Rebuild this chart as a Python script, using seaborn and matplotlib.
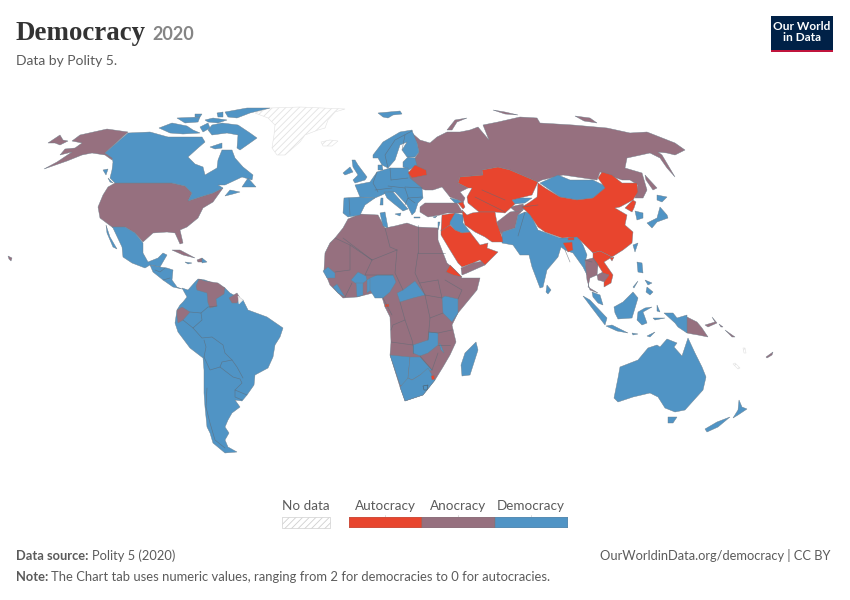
import matplotlib
matplotlib.use("Agg")
import matplotlib.pyplot as plt
from matplotlib.patches import Rectangle
import seaborn as sns

# ---- legend / text values ----
regimes = ["Autocracy", "Anocracy", "Democracy"]
legend_values = [1, 1, 1]
palette = ["#E8452E", "#96707F", "#5094C5"]
AUT, ANO, DEM = palette
NODATA_LABEL = "No data"
TITLE = "Democracy"
YEAR = "2020"
SUBTITLE = "Data by Polity 5."

# ---- outlines of the countries (map pixels) ----
greenland = [(255,113),(270,108),(300,107),(345,109),(335,112),(328,120),(325,128),(318,130),(305,135),(300,142),(285,155),(277,155),(272,148),(274,135),(275,125),(268,118)]
iceland = [(321,142),(330,140),(338,141),(332,146),(323,146)]
w_sahara = [(325,253),(330,243),(335,238),(343,238),(338,242),(335,248),(333,253)]
fr_guiana = [(238,296),(243,300),(239,304)]
new_caled = [(735,363),(740,368),(738,369),(733,364)]
vanuatu = [(743,348),(745,348),(746,353),(744,353)]

alaska = [(107,129),(80,135),(72,141),(82,143),(75,148),(65,149),(60,155),(72,152),(57,162),(44,169),(67,161),(82,155),(92,153),(105,155),(112,160),(113,158),(105,153),(128,132)]
seward = [(48,143),(60,135),(63,140),(68,141),(60,145),(55,143)]
usa = [(115,183),(172,183),(185,186),(192,193),(188,201),(200,197),(213,193),(223,188),(218,195),(213,202),(203,208),(198,218),(187,227),(180,230),(183,243),(180,244),(175,233),(167,232),(153,233),(143,242),(135,233),(125,227),(112,227),(100,218),(98,207),(103,195),(108,187)]
hawaii = [(8,256),(12,258),(11,261),(9,259)]
cuba = [(172,250),(180,250),(195,258),(183,255)]
haiti = [(197,260),(202,258),(202,262),(198,262)]
venezuela = [(196,286),(199,279),(205,281),(218,283),(225,288),(224,294),(216,299),(217,306),(210,308),(208,303),(207,293),(197,290)]
guyana = [(229,298),(237,293),(240,298),(237,303),(232,303)]
ecuador = [(177,310),(182,307),(190,312),(183,320),(178,323),(177,317)]
africa = [(325,253),(330,243),(335,238),(343,228),(348,219),(360,214),(378,215),(385,228),(395,226),(407,223),(418,227),(438,228),(438,240),(447,263),(455,270),(462,278),(480,278),(477,290),(458,313),(452,325),(456,342),(450,355),(443,367),(435,380),(423,395),(405,401),(400,387),(390,355),(391,342),(390,317),(385,307),(382,297),(373,293),(357,297),(343,298),(330,285),(324,270)]
russia = [(412,133),(420,140),(430,143),(437,137),(447,132),(460,132),(470,130),(478,127),(489,140),(483,125),(498,122),(520,117),(537,118),(540,123),(573,125),(607,128),(630,133),(647,132),(675,143),(685,150),(675,155),(667,153),(658,152),(662,155),(675,177),(667,168),(660,158),(650,153),(627,158),(625,168),(642,173),(647,190),(643,198),(635,198),(638,185),(630,180),(622,180),(600,172),(597,180),(563,175),(542,180),(538,182),(510,170),(498,167),(482,170),(483,175),(460,177),(458,183),(468,188),(460,192),(465,198),(463,203),(458,200),(450,197),(442,187),(433,190),(425,190),(420,188),(408,178),(409,175),(415,165),(415,158),(419,152),(417,143)]
novaya = [(447,130),(455,120),(467,118),(457,122),(452,130)]
taymyr_isl = [(493,110),(505,112),(518,115),(505,114)]
arctic_isl = [(575,116),(590,118),(597,123),(584,121)]
sakhalin = [(645,175),(657,188),(653,190),(646,180)]
turkey = [(420,207),(425,203),(440,203),(457,203),(460,208),(463,213),(447,213),(440,215),(428,217),(420,212)]
afghan = [(497,222),(510,212),(523,210),(518,215),(515,228),(503,232),(502,235),(498,228)]
tajik = [(510,207),(523,204),(525,209),(516,212)]
yemen = [(461,268),(473,263),(483,261),(485,265),(467,273),(462,275)]
thailand = [(585,260),(593,258),(598,265),(597,275),(590,278),(588,287),(598,293),(590,290),(587,280)]
cambodia = [(597,275),(603,272),(610,275),(605,282),(598,280)]
png = [(687,317),(697,322),(702,328),(708,337),(698,335),(692,334),(687,333)]
new_britain = [(705,325),(715,322),(712,317),(717,323),(708,327)]
solomon_a = [(719,324),(723,327),(721,327)]
solomon_b = [(725,330),(735,337),(732,337)]
fiji = [(766,357),(773,352),(772,355),(767,358)]

canada = [(128,133),(105,153),(112,158),(113,162),(112,170),(110,178),(115,183),(172,183),(185,186),(192,193),(188,201),(200,197),(213,193),(223,188),(218,185),(225,185),(242,177),(252,180),(253,175),(243,167),(235,158),(232,150),(222,150),(218,160),(217,168),(205,175),(203,167),(195,164),(188,157),(198,148),(205,142),(202,137),(183,137),(168,137),(150,132)]
nova_scotia = [(225,196),(230,190),(240,192),(233,194)]
newfoundland = [(242,187),(248,178),(256,187),(248,187)]
victoria = [(159,128),(172,123),(187,126),(193,130),(200,133),(183,134),(170,133)]
baffin = [(212,125),(222,123),(238,125),(250,133),(257,138),(250,143),(240,150),(237,148),(238,135),(227,133),(212,135),(208,130)]
ellesmere = [(225,112),(247,108),(270,108),(250,113),(237,118),(228,117)]
arctic_a = [(177,118),(200,117),(198,122),(185,123)]
arctic_b = [(205,120),(213,118),(227,120),(218,123),(208,122)]
arctic_c = [(217,113),(223,112),(223,117),(218,117)]
arctic_d = [(200,127),(208,123),(210,128),(203,132)]
arctic_e = [(195,114),(202,114),(200,117),(195,117)]
southampton = [(210,147),(222,143),(222,148),(215,149)]
vancouver = [(103,170),(108,169),(106,175)]
puget = [(108,178),(113,183),(110,182)]
mexico = [(112,227),(125,227),(135,233),(143,243),(143,253),(148,262),(158,258),(163,253),(167,255),(160,267),(150,265),(145,268),(132,263),(123,257),(122,247),(113,228)]
baja = [(106,225),(110,237),(117,249),(113,247),(107,233)]
central_am = [(150,265),(160,267),(167,268),(173,270),(172,280),(177,287),(182,289),(173,287),(163,280),(153,272)]
dominican = [(202,258),(207,262),(202,263)]
jamaica = [(185,262),(192,263),(188,264)]
south_am = [(182,288),(188,290),(195,282),(198,279),(205,280),(225,288),(230,293),(243,300),(248,310),(267,317),(283,328),(280,337),(275,345),(273,357),(268,368),(255,375),(254,385),(247,395),(242,401),(235,400),(240,407),(232,413),(228,420),(225,427),(229,433),(225,440),(228,447),(237,452),(225,453),(213,443),(210,433),(207,427),(205,407),(204,393),(204,370),(203,358),(190,348),(178,332),(175,323),(177,310),(180,305),(183,302),(187,297)]
nordic = [(373,155),(383,142),(400,132),(412,130),(413,133),(417,143),(419,152),(415,157),(407,157),(402,150),(407,142),(400,145),(395,160),(388,168),(382,165),(378,158),(373,158)]
baltics = [(403,162),(408,157),(415,158),(417,165),(409,170),(403,167)]
denmark = [(378,165),(382,165),(383,170),(378,170)]
iberia = [(344,198),(360,197),(375,198),(365,205),(360,215),(348,217),(343,213)]
europe = [(355,185),(370,182),(377,172),(390,168),(408,168),(410,178),(422,188),(423,198),(418,203),(415,212),(412,215),(407,205),(395,192),(388,192),(382,195),(375,198),(360,197)]
italy = [(384,192),(393,192),(400,200),(408,209),(403,211),(393,203),(387,198)]
britain = [(352,160),(355,160),(358,165),(367,177),(365,180),(355,183),(353,180),(358,175),(353,167)]
ireland = [(343,173),(350,167),(353,172),(345,175)]
svalbard = [(378,113),(400,111),(402,114),(393,115),(388,118),(383,117)]
corsica = [(381,198),(383,198),(383,205),(380,205)]
sicily = [(395,214),(401,213),(400,216)]
crete = [(414,217),(420,217),(420,218),(414,218)]
cyprus = [(433,217),(437,216),(435,218)]
tunisia = [(380,213),(385,212),(388,228),(383,226)]
senegal = [(323,271),(328,267),(335,273),(335,278),(327,278)]
liberia = [(333,287),(337,284),(345,297),(338,293)]
burkina = [(351,280),(358,272),(366,276),(367,280),(362,284),(355,283)]
ghana = [(356,283),(363,283),(363,295),(357,297)]
benin = [(367,280),(370,278),(371,290),(367,293)]
nigeria = [(370,278),(377,275),(393,275),(396,282),(390,292),(383,298),(375,298),(370,290)]
car = [(397,293),(403,290),(415,281),(425,295),(413,298),(400,302)]
kenya = [(442,298),(445,296),(458,299),(458,313),(452,322),(443,313)]
zambia = [(413,345),(428,340),(429,332),(438,333),(438,345),(428,353),(420,356),(413,353)]
malawi = [(439,343),(441,345),(444,353),(441,350)]
namibia = [(390,355),(410,357),(408,378),(407,387),(400,385)]
botswana = [(410,357),(420,357),(432,370),(420,375),(412,380),(408,378)]
s_africa = [(408,378),(412,380),(420,375),(428,368),(435,380),(423,395),(405,401),(400,387)]
madagascar = [(476,342),(478,350),(470,375),(462,376),(461,365),(465,353)]
iraq = [(448,222),(455,213),(463,215),(463,223),(470,232),(462,233),(455,230)]
israel = [(438,222),(440,222),(438,230)]
georgia = [(450,198),(458,200),(462,203),(455,203)]
kyrgyz = [(512,200),(518,198),(532,198),(525,203),(515,204)]
s_asia = [(502,235),(503,232),(515,228),(518,215),(525,212),(530,213),(538,230),(560,238),(568,238),(577,235),(583,245),(587,255),(585,262),(588,277),(583,267),(578,260),(573,253),(565,250),(561,247),(558,257),(547,270),(543,287),(540,288),(532,267),(529,255),(520,255),(513,245),(502,243)]
sri_lanka = [(547,285),(551,290),(548,294),(546,292)]
mongolia = [(540,183),(558,175),(570,180),(593,180),(607,187),(593,198),(577,200),(560,197)]
s_korea = [(635,211),(643,213),(643,218),(637,220)]
hokkaido = [(657,195),(667,197),(662,202),(657,200)]
honshu = [(660,207),(667,215),(668,218),(657,222),(652,228),(647,223),(657,218)]
taiwan = [(633,245),(638,243),(635,252)]
malaya = [(592,292),(600,295),(603,305),(598,303),(593,297)]
sumatra = [(583,296),(590,300),(607,318),(605,325),(592,308)]
java = [(606,326),(612,325),(628,333),(617,331)]
borneo = [(614,307),(623,302),(633,292),(638,298),(635,308),(632,318),(618,319),(615,313)]
sulawesi = [(638,312),(645,308),(652,307),(643,312),(647,323),(642,325),(637,320)]
luzon = [(637,262),(642,263),(643,273),(638,272)]
mindanao = [(647,287),(653,292),(650,295),(646,292)]
visayas = [(645,280),(652,283),(648,285)]
palawan = [(633,287),(638,281),(634,288)]
w_papua = [(664,313),(673,313),(677,318),(687,315),(687,333),(678,327),(675,323)]
timor_a = [(632,333),(638,334),(633,335)]
timor_b = [(647,336),(655,332),(650,337)]
seram = [(653,318),(665,318),(655,320)]
halmahera = [(657,305),(660,312),(657,311)]
australia = [(614,398),(618,378),(620,367),(638,360),(648,348),(657,345),(660,347),(667,339),(677,343),(674,347),(682,356),(688,338),(695,353),(702,367),(706,377),(703,390),(685,410),(675,412),(665,408),(658,397),(650,393),(633,397),(618,402)]
tasmania = [(668,417),(677,417),(673,423),(668,423)]
nz_north = [(739,400),(742,407),(747,409),(738,415),(733,418),(738,410)]
nz_south = [(730,417),(718,427),(707,432),(705,429),(717,422)]

belarus = [(408,173),(415,165),(426,170),(427,175),(412,178)]
central_asia = [(458,183),(460,177),(483,175),(482,170),(498,167),(510,170),(538,182),(532,195),(512,200),(515,204),(505,213),(495,212),(479,212),(468,203),(467,197),(472,188),(468,188)]
azerbaijan = [(458,203),(463,202),(465,207),(463,209)]
iran = [(462,210),(467,215),(472,213),(479,212),(495,212),(497,223),(502,237),(503,242),(492,242),(485,237),(475,232),(465,225),(463,217)]
saudi = [(441,235),(441,230),(450,225),(455,230),(462,233),(470,232),(480,245),(488,243),(487,248),(498,252),(485,265),(480,260),(473,263),(462,267),(458,263),(450,250)]
syria_jordan = [(442,215),(455,213),(450,222),(450,225),(441,231)]
china = [(598,178),(602,172),(612,175),(622,183),(637,183),(638,192),(633,200),(620,207),(615,208),(627,215),(625,225),(633,232),(632,243),(623,250),(612,257),(600,251),(593,253),(585,245),(577,237),(562,238),(545,232),(538,227),(530,215),(522,207),(530,202),(537,197),(538,183),(545,188),(560,197),(577,200),(593,198),(605,188)]
n_korea = [(625,208),(633,200),(636,202),(634,208),(632,212)]
bangladesh = [(563,243),(572,242),(573,250),(568,252)]
bhutan = [(568,238),(574,237),(574,240),(568,240)]
indochina = [(593,253),(600,251),(612,257),(604,262),(613,275),(611,283),(604,287),(604,282),(609,275),(603,273),(598,265),(593,258)]
hainan = [(610,258),(614,257),(612,261)]
eritrea = [(446,272),(450,265),(462,277),(453,275)]
eq_guinea = [(385,304),(389,304),(389,307),(385,307)]
eswatini = [(431,376),(434,375),(435,379),(432,380)]

nodata_shapes = [greenland, iceland, w_sahara, fr_guiana, new_caled, vanuatu]
anocracy_shapes = [africa, russia, alaska, seward, usa, hawaii, cuba, haiti, novaya, taymyr_isl, arctic_isl, sakhalin,
                   turkey, afghan, tajik, yemen, png, new_britain, solomon_a, solomon_b, fiji]
democracy_shapes = [canada, nova_scotia, newfoundland, victoria, baffin, ellesmere, arctic_a, arctic_b, arctic_c, arctic_d,
                    arctic_e, southampton, vancouver, puget, mexico, baja, central_am, dominican, jamaica, south_am,
                    nordic, baltics, denmark, iberia, europe, italy, britain, ireland, svalbard, corsica, sicily, crete, cyprus,
                    tunisia, senegal, liberia, burkina, ghana, benin, nigeria, car, kenya, zambia, malawi, namibia, botswana,
                    s_africa, madagascar, iraq, israel, georgia, kyrgyz, s_asia, sri_lanka, mongolia, s_korea, hokkaido,
                    honshu, taiwan, malaya, sumatra, java, borneo, sulawesi, luzon, mindanao, visayas, palawan, w_papua,
                    timor_a, timor_b, seram, halmahera, australia, tasmania, nz_north, nz_south]
late_anocracy = [venezuela, guyana, ecuador, thailand, cambodia]
autocracy_shapes = [belarus, central_asia, azerbaijan, iran, saudi, syria_jordan, china, n_korea, bangladesh, bhutan,
                    indochina, hainan, eritrea, eq_guinea, eswatini]

# interior borders as open lines
borders = [
    [(243,378),(237,367),(232,360),(225,353),(223,345),(212,337),(202,338),(193,328),(202,320),(201,313),(208,307),(217,306)],
    [(207,388),(206,407),(210,423),(215,440),(225,448)],
    [(204,357),(206,347),(204,340)],
    [(204,357),(210,370),(220,367),(222,362),(232,360)],
    [(220,367),(233,377),(240,379),(242,383),(235,390),(247,395)],
    [(235,390),(235,397),(242,400)],
    [(190,312),(201,313)], [(183,320),(193,328)],
    [(155,270),(160,272),(165,268)], [(163,280),(170,278)],
    [(349,198),(350,215)], [(377,172),(373,183),(378,192)], [(375,190),(392,188)], [(390,168),(391,180)],
    [(391,180),(408,178)], [(388,186),(405,188)], [(405,188),(408,197)], [(405,187),(422,188)],
    [(408,198),(422,197)], [(408,198),(405,205)], [(408,198),(415,203)],
    [(388,168),(385,155),(395,140),(412,131)], [(402,150),(405,135)],
    [(343,238),(372,260)], [(385,228),(390,247),(397,250)], [(418,225),(418,253)], [(418,253),(445,253)],
    [(397,250),(395,273),(403,290)], [(418,253),(415,273),(425,295)], [(420,283),(438,280)],
    [(372,260),(365,275),(393,275)], [(350,245),(350,270),(335,272)], [(335,238),(350,245),(372,260)],
    [(397,250),(372,260)], [(438,280),(442,298)], [(425,295),(442,298)],
    [(445,280),(462,290),(458,299)], [(400,302),(405,320),(393,325),(391,330)],
    [(405,320),(412,340),(413,345)], [(391,342),(413,345)], [(413,345),(413,353)], [(425,295),(430,318),(428,340)],
    [(430,318),(443,313)], [(429,332),(438,333),(452,330)], [(438,345),(450,345)], [(432,370),(438,353)],
    [(420,356),(432,370)], [(383,298),(392,315)], [(345,297),(352,283)],
    [(482,190),(505,200)], [(475,197),(505,212)], [(525,212),(518,236)], [(565,250),(570,262)],
    [(585,260),(592,262)], [(538,205),(522,207)], [(593,258),(598,265)],
]
lesotho = [(423,386),(428,385),(427,390),(424,390)]

sns.set_theme(style="white")
plt.rcParams["font.family"] = ["Lato", "DejaVu Sans"]
plt.rcParams["hatch.linewidth"] = 0.6

fig = plt.figure(figsize=(8.5, 6), dpi=100, facecolor="white")
ax = fig.add_axes([0, 0, 1, 1])
ax.set_xlim(0, 850)
ax.set_ylim(600, 0)
ax.axis("off")

EDGE = "#6f7f8b"


def draw(shapes, color):
    for s in shapes:
        xs, ys = zip(*s)
        ax.fill(xs, ys, facecolor=color, edgecolor=EDGE, linewidth=0.3, zorder=2)


for s in nodata_shapes:
    xs, ys = zip(*s)
    ax.fill(xs, ys, facecolor="white", edgecolor="#e2e2e2", hatch="/////", linewidth=0.4, zorder=2)
draw(anocracy_shapes, ANO)
draw(democracy_shapes, DEM)
draw(late_anocracy, ANO)
draw(autocracy_shapes, AUT)
xs, ys = zip(*fr_guiana)
ax.fill(xs, ys, facecolor="#f1f1f1", edgecolor="#e2e2e2", linewidth=0.4, zorder=3)
for b in borders:
    xs, ys = zip(*b)
    ax.plot(xs, ys, color="#5f6a75", linewidth=0.45, alpha=0.7, zorder=4)
xs, ys = zip(*lesotho)
ax.fill(xs, ys, facecolor=DEM, edgecolor="#4c5b66", linewidth=0.4, zorder=4)

# title block
TXT = "#5b5b5b"
ax.text(16, 40, TITLE, family="Liberation Serif", weight="bold", fontsize=19.4, color="#333333", va="baseline")
ax.text(152, 40, YEAR, fontsize=13, weight="bold", color="#858585", va="baseline")
ax.text(16, 65, SUBTITLE, fontsize=10, color=TXT, va="baseline")

# logo
ax.add_patch(Rectangle((771, 16), 62, 36, facecolor="#002147", edgecolor="none", zorder=5))
ax.add_patch(Rectangle((771, 49.5), 62, 2.5, facecolor="#C0143C", edgecolor="none", zorder=6))
ax.text(802, 32, "Our World\nin Data", color="white", fontsize=8.6, weight="bold", ha="center", va="center",
        linespacing=1.0, zorder=7)

# legend
for label, cx in zip(regimes, [385.5, 458.5, 531]):
    ax.text(cx, 510, label, fontsize=9.7, color="#5b5b5b", ha="center", va="baseline")
    ax.plot([cx, cx], [515, 517], color="#cccccc", linewidth=0.5)
ax.text(306, 510, NODATA_LABEL, fontsize=9.7, color="#5b5b5b", ha="center", va="baseline")
ax.add_patch(Rectangle((282, 517), 48, 11, facecolor="white", edgecolor="#d0d0d0", hatch="/////", linewidth=0.5))

lax = fig.add_axes([349 / 850, 1 - 528 / 600, 219 / 850, 11 / 600])
sns.barplot(x=regimes, y=legend_values, hue=regimes, palette=palette, width=1.0, legend=False, ax=lax,
            saturation=1, edgecolor="#777777", linewidth=0.3)
lax.set_xlim(-0.5, 2.5)
lax.set_ylim(0, 1)
lax.axis("off")

# footer
ax.text(16, 560, "Data source:", fontsize=9.3, weight="bold", color=TXT, va="baseline")
ax.text(92, 560, "Polity 5 (2020)", fontsize=9.3, color=TXT, va="baseline")
ax.text(831, 560, "OurWorldinData.org/democracy | CC BY", fontsize=9.3, color=TXT, ha="right", va="baseline")
ax.text(16, 581, "Note:", fontsize=9.3, weight="bold", color=TXT, va="baseline")
ax.text(51, 581, "The Chart tab uses numeric values, ranging from 2 for democracies to 0 for autocracies.",
        fontsize=9.4, color=TXT, va="baseline")

fig.savefig("out.png", dpi=100, facecolor="white")
